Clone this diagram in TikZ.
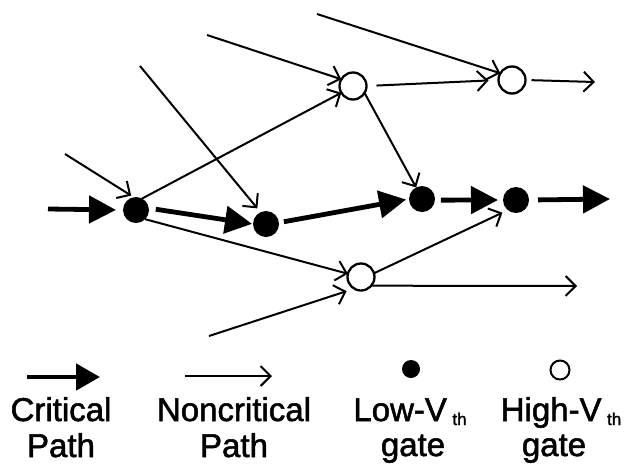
\documentclass[tikz,border=0pt]{standalone}
\usepackage{fontspec}
\setmainfont{Liberation Sans}[BoldFont=Liberation Sans, BoldFeatures={FakeBold=1.6}]
\usetikzlibrary{arrows.meta}

\tikzset{
  lowvt/.style={circle, fill=black, minimum size=26pt, inner sep=0pt, outer sep=0pt},
  highvt/.style={circle, draw=black, line width=2.3pt, fill=white, minimum size=27pt, inner sep=0pt, outer sep=0pt},
  critical/.style={line width=4.8pt, -{Triangle[length=27pt,width=27pt]}},
  noncrit/.style={line width=2pt, -{Straight Barb[length=10pt,width=20pt,line width=2pt]}},
  legtext/.style={anchor=base, inner sep=0pt, font=\fontsize{33}{38}\selectfont\bfseries},
}
\newcommand{\vthsub}{\,\raisebox{-4pt}{\fontsize{17}{17}\selectfont th}}

\begin{document}
\begin{tikzpicture}[x=1pt, y=-1pt]
  \useasboundingbox (0,0) rectangle (634,464);

  % gates
  \node[lowvt]  (A) at (136,210) {};
  \node[lowvt]  (B) at (266,224) {};
  \node[lowvt]  (C) at (422,199) {};
  \node[lowvt]  (D) at (516,200) {};
  \node[highvt] (E) at (353,86)  {};
  \node[highvt] (F) at (512,80)  {};
  \node[highvt] (G) at (361,277) {};

  % primary inputs and outputs
  \coordinate (inA)  at (48,209);
  \coordinate (outD) at (610,199);
  \coordinate (nA)   at (65,154);
  \coordinate (nB)   at (140,66);
  \coordinate (nE)   at (207,35);
  \coordinate (nF)   at (317,14);
  \coordinate (outF) at (595,82);
  \coordinate (nG)   at (209,336);
  \coordinate (outG) at (577,286);

  % critical path
  \draw[critical, shorten >=7pt] (inA) -- (A.180);
  \draw[critical, shorten <=7pt, shorten >=1pt] (A.8) -- (B.180);
  \draw[critical, shorten <=5pt, shorten >=3pt] (B.6) -- (C.180);
  \draw[critical, shorten <=6pt, shorten >=5pt] (C.-5) -- (D.180);
  \draw[critical, shorten <=9pt] (D.0) -- (outD);

  % noncritical paths
  \draw[noncrit, shorten >=3pt] (nA) -- (A.100);
  \draw[noncrit, shorten >=5pt] (nB) -- (B.115);
  \draw[noncrit] (nE) -- (E.150);
  \draw[noncrit] (nF) -- (F.150);
  \draw[noncrit] (A.62) -- (E.210);
  \draw[noncrit, shorten <=10pt, shorten >=10pt] (E.0) -- (F.180);
  \draw[noncrit, shorten <=6pt] (F.0) -- (outF);
  \draw[noncrit] (E.-31) -- (C.117);
  \draw[noncrit] (A.-45) -- (G.166);
  \draw[noncrit, shorten >=8pt] (nG) -- (G.240);
  \draw[noncrit, shorten >=6pt] (G.16) -- (D.231);
  \draw[noncrit] (G.-40) -- (outG);

  % legend symbols
  \coordinate (lc1) at (27,377);
  \coordinate (lc2) at (100,377);
  \coordinate (ln1) at (185,376);
  \coordinate (ln2) at (272,376);
  \draw[critical, -{Triangle[length=24pt,width=26pt]}] (lc1) -- (lc2);
  \draw[noncrit] (ln1) -- (ln2);
  \node[lowvt, minimum size=18pt]  (lowkey)  at (411,369) {};
  \node[highvt, minimum size=19pt, line width=2pt] (highkey) at (560,370) {};

  % legend labels
  \node[legtext] (crit1) at (61,421)  {Critical};
  \node[legtext] (crit2) at (61,457)  {Path};
  \node[legtext] (ncrit1) at (234,421) {Noncritical};
  \node[legtext] (ncrit2) at (234,457) {Path};
  \node[legtext] (low1) at (410,421) {Low-V\vthsub};
  \node[legtext] (low2) at (413,456) {gate};
  \node[legtext] (high1) at (561,421) {High-V\vthsub};
  \node[legtext] (high2) at (554,456) {gate};
\end{tikzpicture}
\end{document}
